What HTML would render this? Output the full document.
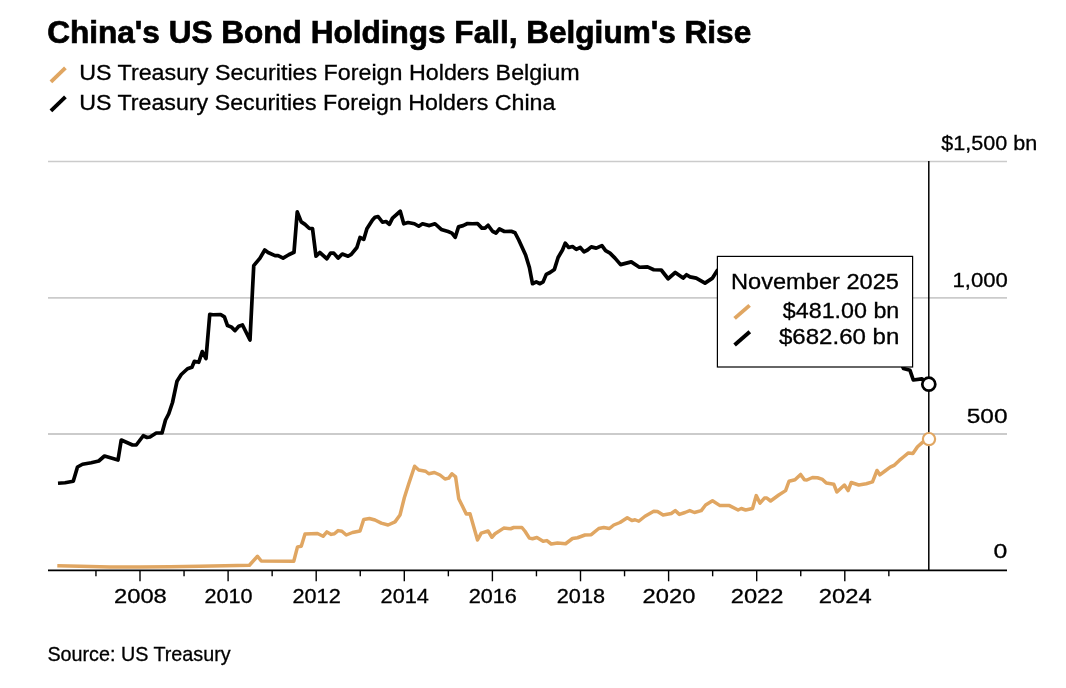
<!DOCTYPE html>
<html lang="en">
<head>
<meta charset="utf-8">
<title>China's US Bond Holdings Fall, Belgium's Rise</title>
<style>
html,body{margin:0;padding:0;background:#fff;}
body{width:1066px;height:688px;overflow:hidden;font-family:"Liberation Sans",sans-serif;}
svg{display:block;}
svg text{font-family:"Liberation Sans",sans-serif;fill:#000;stroke:#000;stroke-width:0.3px;}
.ax text{font-size:20.3px;}
</style>
</head>
<body>
<svg width="1066" height="688" viewBox="0 0 1066 688">
<rect width="1066" height="688" fill="#ffffff"/>
<text x="47.2" y="42.5" font-size="32" font-weight="bold" style="stroke-width:0.7px" textLength="704" lengthAdjust="spacingAndGlyphs">China's US Bond Holdings Fall, Belgium's Rise</text>
<g stroke-width="3.9" stroke-linecap="butt">
<line x1="50.9" y1="81.8" x2="65.4" y2="67.8" stroke="#E0A662"/>
<line x1="50.9" y1="110.8" x2="65.4" y2="96.8" stroke="#000"/>
</g>
<text x="79.2" y="80" font-size="21.5" textLength="500.5" lengthAdjust="spacingAndGlyphs">US Treasury Securities Foreign Holders Belgium</text>
<text x="79.2" y="109.5" font-size="21.5" textLength="476.2" lengthAdjust="spacingAndGlyphs">US Treasury Securities Foreign Holders China</text>
<g stroke="#cbcbcb">
<line x1="48" y1="161.5" x2="1007" y2="161.5" stroke-width="1.5"/>
<line x1="48" y1="297.9" x2="1007" y2="297.9" stroke-width="1.9"/>
<line x1="48" y1="434" x2="1007" y2="434" stroke-width="2"/>
</g>
<g class="ax">
<text x="941.3" y="149.6" textLength="96" lengthAdjust="spacingAndGlyphs">$1,500 bn</text>
<text x="1007.9" y="286.6" text-anchor="end" textLength="55.4" lengthAdjust="spacingAndGlyphs">1,000</text>
<text x="1007.5" y="422.8" text-anchor="end" textLength="40.8" lengthAdjust="spacingAndGlyphs">500</text>
<text x="1007.4" y="558.2" text-anchor="end" textLength="13.8" lengthAdjust="spacingAndGlyphs">0</text>
<text x="140.40" y="603" text-anchor="middle" textLength="52.8" lengthAdjust="spacingAndGlyphs">2008</text><text x="228.50" y="603" text-anchor="middle" textLength="48.2" lengthAdjust="spacingAndGlyphs">2010</text><text x="316.60" y="603" text-anchor="middle" textLength="48.2" lengthAdjust="spacingAndGlyphs">2012</text><text x="404.70" y="603" text-anchor="middle" textLength="48.2" lengthAdjust="spacingAndGlyphs">2014</text><text x="492.80" y="603" text-anchor="middle" textLength="48.2" lengthAdjust="spacingAndGlyphs">2016</text><text x="580.90" y="603" text-anchor="middle" textLength="48.2" lengthAdjust="spacingAndGlyphs">2018</text><text x="669.00" y="603" text-anchor="middle" textLength="52.8" lengthAdjust="spacingAndGlyphs">2020</text><text x="757.10" y="603" text-anchor="middle" textLength="52.8" lengthAdjust="spacingAndGlyphs">2022</text><text x="845.20" y="603" text-anchor="middle" textLength="52.8" lengthAdjust="spacingAndGlyphs">2024</text>
</g>
<line x1="928.8" y1="161" x2="928.8" y2="570.3" stroke="#000" stroke-width="1.5"/>
<polyline fill="none" stroke="#E0A662" stroke-width="3.5" stroke-linejoin="round" stroke-linecap="butt" points="57.3,565.8 80,566.3 110,566.9 140,567 170,566.8 200,566.2 225,565.7 249.4,565.25 257.5,556.25 261.25,561 293.75,561.25 297.5,546.9 301.25,546.25 305,534 317.5,533.5 323.1,536.25 326.9,531.9 331.25,534.4 334.4,533.75 338.1,530.6 341.9,531.25 346.25,535 352.5,532.5 360,531 363.75,519.4 369.4,518.5 375,520 381.25,523.1 388.1,525 395,521.9 400,515 404.4,497.5 408.75,483.75 414.6,466.25 418.75,470 425.6,471.25 428.75,473.75 434.4,472.5 440,475 445,479 448.75,478.1 451.9,473.75 455.6,476.9 458.75,498.75 462.5,506.25 466.25,514 470,513.75 477.5,540 481.25,533.1 488.1,531 491.9,537.25 495,533.75 503.75,528.1 510.6,528.75 513.75,527.5 521.9,527.5 525,531.25 529.4,538.1 532.5,538.75 536.9,537.5 543.1,541.25 546.9,540.6 551.25,544 557.5,543.1 565.6,543.75 572.5,538.5 577.5,537.75 585,535 591.25,534.7 598.75,528.5 603.75,527.5 609.4,528.5 613.75,525 620,522.5 627.25,517.75 631.9,520.6 635,519.75 638.75,521.25 645,516.25 653.75,511.25 657.5,511.5 663.1,515 671.25,513.5 675.25,510.6 679.4,514.4 685,512.5 689.75,510.6 694.4,512.5 701.25,510.6 705.6,505 712.5,500.8 720,505.6 729.4,505.6 738.1,510 741.25,508.5 745.6,510 752.5,508.5 756.25,495.6 760,503.1 764.4,498.1 766.9,498.1 770.6,501 778.75,495 785.6,490.6 789,481.25 795,479.75 800.6,474.4 804.4,479.75 806.9,480 812.5,477.5 817.5,477.75 822.5,479.4 826.25,483.1 833.75,484.2 836.9,492 844.4,485 848.1,490.6 851.25,482.5 858.75,485 866.25,483.75 872.5,481.9 877,470.5 879.8,474.8 885,471 890.2,467.2 894,465.4 899.3,460.4 904,456.5 908.4,452.9 912.9,453.6 917.5,446.8 922.8,442.1 929,439.2"/>
<polyline fill="none" stroke="#000" stroke-width="3.7" stroke-linejoin="round" stroke-linecap="butt" points="58,483.25 65,482.75 73.25,481.25 77.5,467 82.5,464.25 91.25,462.75 98.75,461 104.5,456 118,460 121.25,440 132.5,445 136.25,445 143.25,435.75 147,437.5 150,437 156.25,433 162,433 165.5,420 168.75,413.75 172.5,402.5 177,381.25 181.25,374.5 187.5,368.75 191.9,367.25 194.4,361.25 198.75,362.25 202.25,351.6 206,358.5 209.75,314.4 213,314.75 220.6,314.5 224.4,316.9 227.5,325.6 231.25,326.9 235,330.6 238.75,326.25 242.5,325 250,340 252.5,290 253.75,265.6 260,258.1 264.75,250 268.1,252.5 275,255.6 278.1,255.6 283.1,258.1 288.75,254.75 294,252.25 297.25,211.9 301.25,221.9 305,224.4 309.4,228.5 312.5,228.5 316,256.25 319.75,252.5 326.9,258.75 330.6,253.1 333.75,253.1 338.1,258.1 342.25,254 348.1,256.25 351.25,254.4 356.9,247.5 360,237.5 363.75,239.4 366.9,228.75 372.5,220 375,217.25 378.1,216.5 382.5,222.25 386,221.5 389.4,224.4 392.5,218.1 400.25,211.25 403.75,223.75 408.1,222.5 414.4,223.75 418.75,226.25 422.5,223.75 429.4,225.6 435,223.75 441.25,229.4 448.1,231.5 451.9,233.1 455.25,237.25 458.5,226.9 463.1,225.6 467.5,223.5 472.5,223.75 477.5,223.5 481.9,228.1 485,228.1 488.1,225.25 492.5,231.25 496,233.1 499.4,229 504.4,231.5 511.25,231.25 515,232.75 518.75,240 525.6,255 529.4,267.5 532.5,283.75 536.25,281.9 540,283.75 543.1,281.9 546.25,274.4 550,272.5 554.4,269.4 558.1,257.5 562.5,250 565.25,243.1 568.75,247.5 572.5,246.5 576.25,249.4 580.25,247.5 584,251.9 587.5,250 591.25,246.9 596.25,248.1 601.9,245.6 605.6,250.6 610,253.1 615,258.1 620.6,264.6 631.25,261.9 639.4,267.25 647.5,266.9 653.75,269.75 661.25,270 668.1,278.75 675.25,272.5 683.1,278.1 686.5,274.75 690,276.9 696.25,278.1 705,283.1 712.5,278.1 717.25,270.6 722,266 730,272 760,285 800,300 840,320 880,345 899,358 903.5,368.5 910,370.3 913.3,380 921.8,378.8 928.8,384.2"/>
<g stroke="#000" stroke-width="1.4">
<line x1="48" y1="570.3" x2="1007" y2="570.3" stroke-width="1.7"/>
<line x1="95.95" y1="570.3" x2="95.95" y2="576.3" /><line x1="140.00" y1="570.3" x2="140.00" y2="581.3" /><line x1="184.05" y1="570.3" x2="184.05" y2="576.3" /><line x1="228.10" y1="570.3" x2="228.10" y2="581.3" /><line x1="272.15" y1="570.3" x2="272.15" y2="576.3" /><line x1="316.20" y1="570.3" x2="316.20" y2="581.3" /><line x1="360.25" y1="570.3" x2="360.25" y2="576.3" /><line x1="404.30" y1="570.3" x2="404.30" y2="581.3" /><line x1="448.35" y1="570.3" x2="448.35" y2="576.3" /><line x1="492.40" y1="570.3" x2="492.40" y2="581.3" /><line x1="536.45" y1="570.3" x2="536.45" y2="576.3" /><line x1="580.50" y1="570.3" x2="580.50" y2="581.3" /><line x1="624.55" y1="570.3" x2="624.55" y2="576.3" /><line x1="668.60" y1="570.3" x2="668.60" y2="581.3" /><line x1="712.65" y1="570.3" x2="712.65" y2="576.3" /><line x1="756.70" y1="570.3" x2="756.70" y2="581.3" /><line x1="800.75" y1="570.3" x2="800.75" y2="576.3" /><line x1="844.80" y1="570.3" x2="844.80" y2="581.3" /><line x1="888.85" y1="570.3" x2="888.85" y2="576.3" />
</g>
<circle cx="929" cy="439.1" r="6.1" fill="#fff" stroke="#E0A662" stroke-width="2.2"/>
<circle cx="928.8" cy="384.2" r="6.5" fill="#fff" stroke="#000" stroke-width="2.7"/>
<rect x="717.4" y="256.4" width="195.2" height="110.6" fill="#fff" stroke="#000" stroke-width="1.2"/>
<text x="731" y="289.3" font-size="21.6" textLength="168" lengthAdjust="spacingAndGlyphs">November 2025</text>
<text x="899.3" y="318.1" font-size="21.6" text-anchor="end" textLength="116.5" lengthAdjust="spacingAndGlyphs">$481.00 bn</text>
<text x="899.3" y="344.4" font-size="21.6" text-anchor="end" textLength="120.3" lengthAdjust="spacingAndGlyphs">$682.60 bn</text>
<g stroke-width="3.9" stroke-linecap="butt">
<line x1="734.6" y1="318.4" x2="749.6" y2="305.4" stroke="#E0A662"/>
<line x1="734.6" y1="345" x2="749.8" y2="331.7" stroke="#000"/>
</g>
<text x="47.4" y="661.2" font-size="19.8" textLength="183.2" lengthAdjust="spacingAndGlyphs">Source: US Treasury</text>
</svg>
</body>
</html>
